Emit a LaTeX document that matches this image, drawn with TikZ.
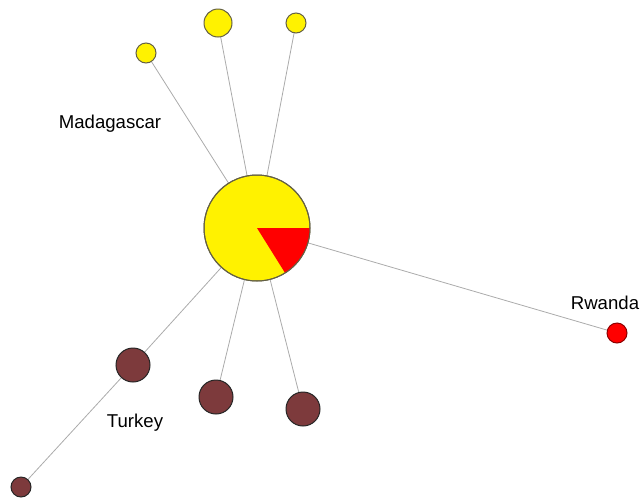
\documentclass[tikz,border=0pt]{standalone}
\usepackage{fontspec}
\setmainfont{Liberation Sans}
\usetikzlibrary{backgrounds}
\begin{document}
\begin{tikzpicture}[x=1pt,y=-1pt,
  edge/.style={draw=black!33,line width=0.8pt},
  ynode/.style={circle,draw=black!70!yellow,line width=1pt,fill=yellow,inner sep=0pt},
  bnode/.style={circle,draw=black!85,line width=1pt,fill={rgb,255:red,125;green,58;blue,60},inner sep=0pt},
  rnode/.style={circle,draw={rgb,255:red,140;green,0;blue,0},line width=1pt,fill=red,inner sep=0pt},
  lbl/.style={font=\fontsize{18.6}{22}\selectfont,inner sep=0pt}]
\useasboundingbox (0,0) rectangle (642,499);
\node[ynode,minimum size=106pt] (p) at (257,228) {};
\fill[red] (p.center) -- ++(0:53) arc[start angle=0,end angle=58,radius=53] -- cycle;
\draw[black!70!yellow,line width=1pt] (p.center) circle[radius=53];
\node[ynode,minimum size=20pt] (y1) at (146,53) {};
\node[ynode,minimum size=28pt] (y2) at (218,23) {};
\node[ynode,minimum size=20pt] (y3) at (296,23) {};
\node[bnode,minimum size=34pt] (b1) at (133,365) {};
\node[bnode,minimum size=34pt] (b2) at (216,397) {};
\node[bnode,minimum size=34pt] (b3) at (303,409) {};
\node[bnode,minimum size=20pt] (b4) at (21,487) {};
\node[rnode,minimum size=20pt] (r1) at (617,333) {};
\begin{pgfonlayer}{background}
\path[edge] (p.center) -- (y1.center) (p.center) -- (y2.center) (p.center) -- (y3.center)
  (p.center) -- (b1.center) (b1.center) -- (b4.center)
  (p.center) -- (b2.center) (p.center) -- (b3.center) (p.center) -- (r1.center);
\end{pgfonlayer}
\node[lbl] (tm) at (110,124) {Madagascar};
\node[lbl] (tt) at (135,423) {Turkey};
\node[lbl] (tr) at (605,303) {Rwanda};
\end{tikzpicture}
\end{document}
